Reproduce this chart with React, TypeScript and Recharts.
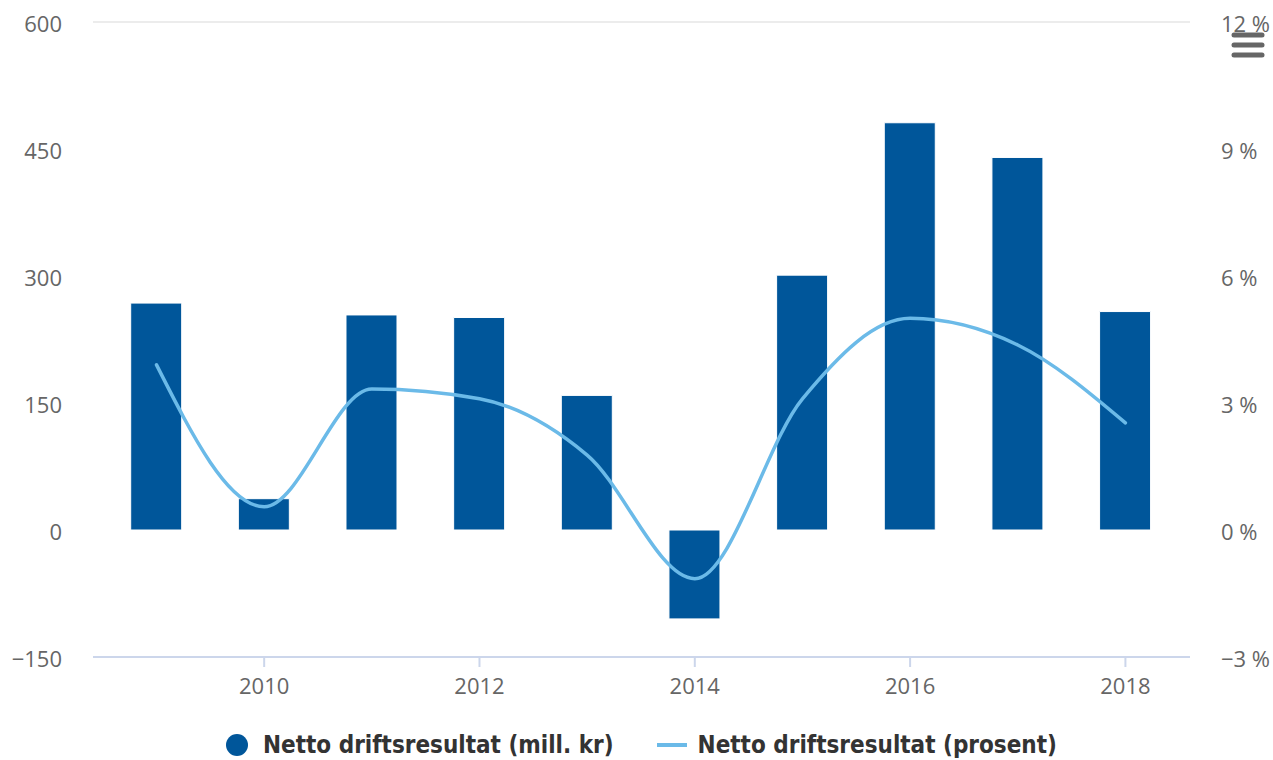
import React from 'react';
import {
  ComposedChart,
  Bar,
  Line,
  XAxis,
  YAxis,
  CartesianGrid,
} from 'recharts';

const years = [2009, 2010, 2011, 2012, 2013, 2014, 2015, 2016, 2017, 2018];
// Netto driftsresultat, mill. kr
const resultMill = [268, 37, 254, 251, 159, -105, 301, 481, 440, 258];
// Netto driftsresultat, prosent
const resultPct = [3.9, 0.55, 3.33, 3.1, 1.77, -1.15, 3.1, 5.0, 4.37, 2.53];

const leftTicks = [-150, 0, 150, 300, 450, 600];
const rightTicks = [-3, 0, 3, 6, 9, 12];
const yearTicks = [2010, 2012, 2014, 2016, 2018];

const BAR_COLOR = '#00569a';
const LINE_COLOR = '#6bbae8';
const TEXT_COLOR = '#666666';
const TICK_FONT = '"Open Sans", "DejaVu Sans", sans-serif';

const data = years.map((year, i) => ({
  year,
  mill: resultMill[i],
  pct: resultPct[i],
}));

const fmtSigned = (v: number) => (v < 0 ? `\u2212${Math.abs(v)}` : `${v}`);

const LeftTick = ({ x, y, payload }: any) => (
  <text x={x} y={y} dy={10} textAnchor="end" fill={TEXT_COLOR} fontSize={22} fontFamily={TICK_FONT}>
    {fmtSigned(payload.value)}
  </text>
);

const RightTick = ({ x, y, payload }: any) => (
  <text x={x} y={y} dy={10} textAnchor="start" fill={TEXT_COLOR} fontSize={22} fontFamily={TICK_FONT}>
    {`${fmtSigned(payload.value)} %`}
  </text>
);

const YearTick = ({ x, y, payload }: any) => (
  <text x={x} y={y} dy={27} textAnchor="middle" fill={TEXT_COLOR} fontSize={22} fontFamily={TICK_FONT}>
    {payload.value}
  </text>
);

const legendText: React.CSSProperties = {
  fontFamily: '"Liberation Sans Narrow", "DejaVu Sans Condensed", sans-serif',
  fontWeight: 700,
  fontSize: 24,
  lineHeight: '26px',
  color: '#333333',
  whiteSpace: 'nowrap',
};

export default function App() {
  return (
    <div style={{ position: 'fixed', left: 0, top: 0, width: 1273, height: 760, background: '#fff', overflow: 'hidden' }}>
      <ComposedChart
        width={1273}
        height={760}
        data={data}
        margin={{ top: 22, right: 0, bottom: 63, left: 0 }}
      >
        <CartesianGrid horizontal vertical={false} stroke="#e6e6e6" strokeWidth={1.5} />
        <XAxis
          dataKey="year"
          type="number"
          domain={[2008.41, 2018.6]}
          ticks={yearTicks}
          allowDataOverflow
          height={40}
          stroke="#ccd6eb"
          strokeWidth={2}
          tickSize={10}
          tickMargin={0}
          tick={<YearTick />}
        />
        <YAxis
          yAxisId="left"
          orientation="left"
          domain={[-150, 600]}
          ticks={leftTicks}
          width={93}
          axisLine={false}
          tickLine={false}
          tickSize={0}
          tickMargin={31}
          tick={<LeftTick />}
        />
        <YAxis
          yAxisId="right"
          orientation="right"
          domain={[-3, 12]}
          ticks={rightTicks}
          width={83}
          axisLine={false}
          tickLine={false}
          tickSize={0}
          tickMargin={31}
          tick={<RightTick />}
        />
        <Bar
          yAxisId="left"
          dataKey="mill"
          fill={BAR_COLOR}
          stroke="#ffffff"
          strokeWidth={1}
          barSize={51}
          isAnimationActive={false}
        />
        <Line
          yAxisId="right"
          dataKey="pct"
          type="monotone"
          stroke={LINE_COLOR}
          strokeWidth={3.5}
          strokeLinecap="round"
          dot={false}
          activeDot={false}
          isAnimationActive={false}
        />
      </ComposedChart>

      {/* export menu icon */}
      <svg style={{ position: 'absolute', left: 1228, top: 30 }} width={40} height={32}>
        {[5, 15, 25].map((y) => (
          <line key={y} x1={6} x2={34} y1={y} y2={y} stroke="#666" strokeWidth={5} strokeLinecap="round" />
        ))}
      </svg>

      {/* legend */}
      <div style={{ position: 'absolute', left: 225, top: 732, display: 'flex', alignItems: 'center' }}>
        <svg width={26} height={26} style={{ marginRight: 12 }}>
          <circle cx={12} cy={13} r={11} fill={BAR_COLOR} />
        </svg>
        <span style={legendText}>Netto driftsresultat (mill. kr)</span>
        <svg width={32} height={26} style={{ marginLeft: 42, marginRight: 10 }}>
          <line x1={1} x2={31} y1={13} y2={13} stroke={LINE_COLOR} strokeWidth={4} />
        </svg>
        <span style={legendText}>Netto driftsresultat (prosent)</span>
      </div>
    </div>
  );
}
